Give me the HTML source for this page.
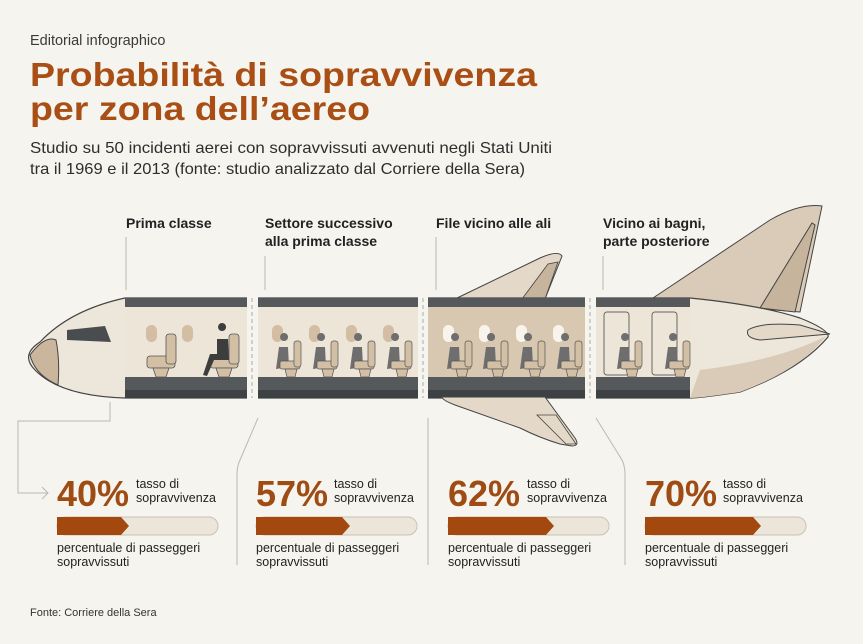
<!DOCTYPE html>
<html><head><meta charset="utf-8"><style>
html,body{margin:0;padding:0;background:#f5f4ee;}
svg{display:block;font-family:"Liberation Sans",sans-serif;}
</style></head><body>
<svg width="863" height="644" viewBox="0 0 863 644" xmlns="http://www.w3.org/2000/svg">
<rect width="863" height="644" fill="#f5f4ee"/>
<text x="30" y="45" font-size="14.5" fill="#3a3a3a">Editorial infographico</text>
<text x="30" y="86" font-size="33" font-weight="bold" fill="#a94f15" textLength="507" lengthAdjust="spacingAndGlyphs">Probabilità di sopravvivenza</text>
<text x="30" y="120" font-size="33" font-weight="bold" fill="#a94f15" textLength="340" lengthAdjust="spacingAndGlyphs">per zona dell’aereo</text>
<text x="30" y="153" font-size="16" fill="#2e2e2e" textLength="522" lengthAdjust="spacingAndGlyphs">Studio su 50 incidenti aerei con sopravvissuti avvenuti negli Stati Uniti</text>
<text x="30" y="174" font-size="16" fill="#2e2e2e" textLength="495" lengthAdjust="spacingAndGlyphs">tra il 1969 e il 2013 (fonte: studio analizzato dal Corriere della Sera)</text>

<g font-size="14" font-weight="bold" fill="#222">
<text x="126" y="228">Prima classe</text>
<text x="265" y="228">Settore successivo</text>
<text x="265" y="246">alla prima classe</text>
<text x="436" y="228">File vicino alle ali</text>
<text x="603" y="228">Vicino ai bagni,</text>
<text x="603" y="246">parte posteriore</text>
</g>
<g stroke="#bdb8ad" stroke-width="1" fill="none">
<line x1="126" y1="237" x2="126" y2="290"/>
<line x1="265" y1="256" x2="265" y2="290"/>
<line x1="436" y1="237" x2="436" y2="290"/>
<line x1="603" y1="256" x2="603" y2="290"/>
</g>

<path d="M650 300 L770 220 Q800 203 822 206 L800 312 Z" fill="#d9cbb7" stroke="#444" stroke-width="1"/>
<path d="M760 308 L812 223 L815 225 L795 312 Z" fill="#c7b49c" stroke="#444" stroke-width="1"/>
<path d="M455 299 L540 258 Q558 250 562 256 L545 299 Z" fill="#e4d9c8" stroke="#444" stroke-width="1"/>
<path d="M522 299 L548 264 L558 262 L545 299Z" fill="#c7b49c" stroke="#444" stroke-width="0.8"/>
<path d="M125 298 L690 298 Q760 305 800 318 Q830 330 828 337 Q800 370 740 392 Q700 398 690 398 L125 398 Q60 396 35 370 Q20 355 40 342 Q70 310 125 298 Z" fill="#ede6da" stroke="#444" stroke-width="1.2"/>
<path d="M30 355 Q45 335 56 340 Q60 360 58 385 Q35 375 30 355 Z" fill="#c9b69d" stroke="#444" stroke-width="1"/>
<path d="M700 370 Q780 360 826 336 Q800 370 740 392 Q700 398 690 398 Z" fill="#d9cbb7"/>
<path d="M67 330 L105 326 L111 342 L67 340 Z" fill="#4a4d50"/>
<path d="M748 330 Q760 322 800 325 L830 334 L760 340 Q745 338 748 330 Z" fill="#e4d9c8" stroke="#444" stroke-width="1"/>

<g>
<rect x="125" y="298" width="122" height="100" fill="#ece5d8"/>
<rect x="258" y="298" width="160" height="100" fill="#ece5d8"/>
<rect x="428" y="298" width="157" height="100" fill="#d8c8b1"/>
<rect x="596" y="298" width="94" height="100" fill="#ece5d8"/>
<g fill="#56595c">
<rect x="125" y="298" width="122" height="9"/><rect x="258" y="298" width="160" height="9"/><rect x="428" y="298" width="157" height="9"/><rect x="596" y="298" width="94" height="9"/>
<rect x="125" y="377" width="122" height="13"/><rect x="258" y="377" width="160" height="13"/><rect x="428" y="377" width="157" height="13"/><rect x="596" y="377" width="94" height="13"/>
</g>
<g fill="#3e4144">
<rect x="125" y="390" width="122" height="8"/><rect x="258" y="390" width="160" height="8"/><rect x="428" y="390" width="157" height="8"/><rect x="596" y="390" width="94" height="8"/>
</g>
<rect x="247" y="296" width="11" height="104" fill="#f5f4ee"/>
<rect x="418" y="296" width="10" height="104" fill="#f5f4ee"/>
<rect x="585" y="296" width="11" height="104" fill="#f5f4ee"/>
<g stroke="#aaa" stroke-dasharray="4 3"><line x1="252" y1="298" x2="252" y2="398"/><line x1="423" y1="298" x2="423" y2="398"/><line x1="590" y1="298" x2="590" y2="398"/></g>
</g>
<g fill="#d3bda3">
<rect x="146" y="325" width="11" height="17" rx="5.5"/><rect x="182" y="325" width="11" height="17" rx="5.5"/>
<rect x="272" y="325" width="11" height="17" rx="5.5"/><rect x="309" y="325" width="11" height="17" rx="5.5"/><rect x="346" y="325" width="11" height="17" rx="5.5"/><rect x="383" y="325" width="11" height="17" rx="5.5"/>
</g>
<g fill="#f8f4ec">
<rect x="443" y="325" width="11" height="17" rx="5.5"/><rect x="479" y="325" width="11" height="17" rx="5.5"/><rect x="516" y="325" width="11" height="17" rx="5.5"/><rect x="553" y="325" width="11" height="17" rx="5.5"/>
</g>
<g fill="none" stroke="#666" stroke-width="1"><rect x="604" y="312" width="25" height="63" rx="3"/><rect x="652" y="312" width="25" height="63" rx="3"/></g>
<g fill="#d2bfa4" stroke="#555" stroke-width="0.8">
<rect x="147" y="356" width="28" height="12" rx="3"/><rect x="166" y="334" width="10" height="30" rx="3"/><path d="M153 368 L169 368 L166 377 L156 377Z"/>
<rect x="210" y="356" width="28" height="12" rx="3"/><rect x="229" y="334" width="10" height="30" rx="3"/><path d="M216 368 L232 368 L229 377 L219 377Z"/>
</g>
<path d="M222 331 a4 4 0 1 1 0.1 0 M217 339 L228 339 L229 360 L214 360 L207 376 L203 375 L210 354 L217 354Z" fill="#3d3d3d"/>
<defs>
<g id="seat">
<path d="M-8 8 a4 4 0 1 1 0.1 0 M-13 14 L-4 14 L-3 34 L-16 36 Z" fill="#6e6e6e"/>
<rect x="-12" y="28" width="20" height="8" rx="2" fill="#d2bfa4" stroke="#555" stroke-width="0.7"/>
<rect x="2" y="8" width="7" height="26" rx="2.5" fill="#d2bfa4" stroke="#555" stroke-width="0.7"/>
<path d="M-7 36 L5 36 L3 44 L-5 44Z" fill="#d2bfa4" stroke="#555" stroke-width="0.7"/>
</g>
</defs>
<g transform="translate(0,333)">
<use href="#seat" x="292"/><use href="#seat" x="329"/><use href="#seat" x="366"/><use href="#seat" x="403"/>
<use href="#seat" x="463"/><use href="#seat" x="499"/><use href="#seat" x="536"/><use href="#seat" x="573"/>
<use href="#seat" x="633"/><use href="#seat" x="681"/>
</g>
<!-- lower wing -->
<path d="M442 397 L545 397 L575 438 Q580 446 572 446 L560 444 Q540 438 520 428 L455 405 Q442 400 442 397 Z" fill="#e4d9c8" stroke="#444" stroke-width="1"/>
<path d="M537 415 L556 415 L576 444 L566 444Z" fill="none" stroke="#444" stroke-width="0.8"/>

<g stroke="#bdb8ad" stroke-width="1" fill="none">
<path d="M110 402 L110 421 L18 421 L18 493 L48 493"/>
<path d="M42 487 L48 493 L42 499"/>
<path d="M258 418 L240 460 Q237 466 237 475 L237 565"/>
<path d="M428 418 L428 565"/>
<path d="M596 418 L622 460 Q625 466 625 475 L625 565"/>
</g>

<g font-family="Liberation Sans,sans-serif">
<g font-size="36" font-weight="bold" fill="#9f4b14">
<text x="57" y="506">40%</text><text x="256" y="506">57%</text><text x="448" y="506">62%</text><text x="645" y="506">70%</text>
</g>
<g font-size="12.5" fill="#222">
<text x="136" y="488">tasso di</text><text x="136" y="502">sopravvivenza</text>
<text x="334" y="488">tasso di</text><text x="334" y="502">sopravvivenza</text>
<text x="527" y="488">tasso di</text><text x="527" y="502">sopravvivenza</text>
<text x="723" y="488">tasso di</text><text x="723" y="502">sopravvivenza</text>
</g>
<g stroke="#c9c2b5" stroke-width="1" fill="#ece6da">
<rect x="57" y="517" width="161" height="18" rx="9"/><rect x="256" y="517" width="161" height="18" rx="9"/><rect x="448" y="517" width="161" height="18" rx="9"/><rect x="645" y="517" width="161" height="18" rx="9"/>
</g>
<g fill="#a3490f">
<path d="M57 517 L121 517 L129 526 L121 535 L57 535Z"/>
<path d="M256 517 L342 517 L350 526 L342 535 L256 535Z"/>
<path d="M448 517 L546 517 L554 526 L546 535 L448 535Z"/>
<path d="M645 517 L753 517 L761 526 L753 535 L645 535Z"/>
</g>
<g font-size="12.5" fill="#222">
<text x="57" y="552">percentuale di passeggeri</text><text x="57" y="566">sopravvissuti</text>
<text x="256" y="552">percentuale di passeggeri</text><text x="256" y="566">sopravvissuti</text>
<text x="448" y="552">percentuale di passeggeri</text><text x="448" y="566">sopravvissuti</text>
<text x="645" y="552">percentuale di passeggeri</text><text x="645" y="566">sopravvissuti</text>
</g>
</g>
<text x="30" y="616" font-size="11" fill="#333">Fonte: Corriere della Sera</text>
</svg>
</body></html>
